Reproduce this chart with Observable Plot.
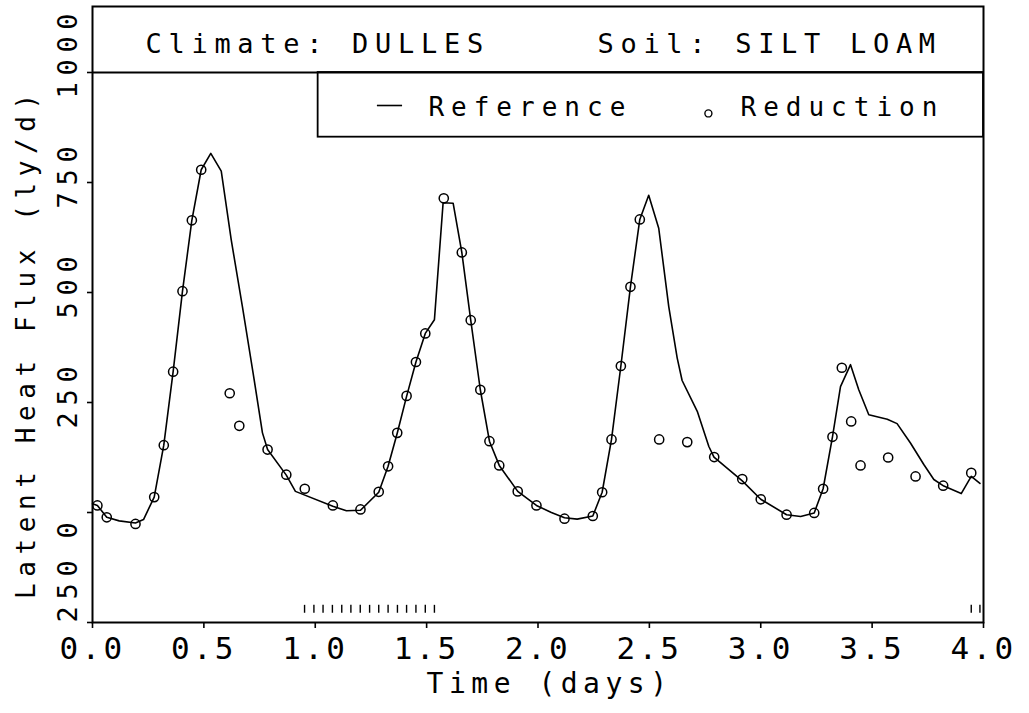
<!DOCTYPE html>
<html>
<head>
<meta charset="utf-8">
<script src="https://cdn.jsdelivr.net/npm/d3@7"></script>
<script src="https://cdn.jsdelivr.net/npm/@observablehq/plot@0.6"></script>
<style>
  html, body { margin: 0; padding: 0; background: #fff; }
  #chart svg { display: block; }
  g[aria-description="title"] text { letter-spacing: 6.7px; }
  g[aria-description="legend-text"] text { letter-spacing: 7px; }
  g[aria-label="y-axis tick label"] text { letter-spacing: 6.7px; }
  g[aria-label="x-axis tick label"] text { letter-spacing: 3.3px; }
  g[aria-description="y-title"] text { letter-spacing: 6.6px; }
  g[aria-description="x-title"] text { letter-spacing: 5.5px; }
</style>
</head>
<body>
<div id="chart"></div>
<script>
// Reference simulation (line): time in days, latent heat flux in ly/d
const refDays = [0.000,0.022,0.064,0.120,0.193,0.229,0.277,0.320,0.362,0.404,0.446,0.488,0.531,0.578,0.623,0.673,0.721,0.763,0.786,0.870,0.911,1.079,1.140,1.203,1.285,1.327,1.368,1.410,1.452,1.494,1.535,1.574,1.619,1.658,1.698,1.741,1.782,1.826,1.909,1.993,2.060,2.119,2.176,2.246,2.288,2.330,2.372,2.415,2.457,2.497,2.542,2.587,2.625,2.647,2.715,2.767,2.790,2.917,3.000,3.116,3.179,3.240,3.280,3.322,3.358,3.403,3.440,3.485,3.568,3.612,3.672,3.732,3.777,3.822,3.900,3.945,3.984];
const refFlux = [20,16,-11,-19,-24,-16,35,153,320,503,664,779,816,776,619,468,317,181,143,85,48,14,4,5,46,105,180,264,342,407,438,704,703,591,437,279,162,107,48,16,0,-12,-15,-8,46,166,333,513,666,721,646,468,351,300,230,150,126,72,30,-5,-9,-1,54,172,286,336,279,222,212,202,158,109,75,60,43,82,66];

// Reduction (circles)
const redDays = [0.022,0.064,0.193,0.277,0.320,0.362,0.404,0.446,0.488,0.616,0.659,0.786,0.870,0.953,1.079,1.203,1.285,1.327,1.368,1.410,1.452,1.494,1.577,1.658,1.698,1.741,1.782,1.826,1.909,1.993,2.119,2.246,2.288,2.330,2.372,2.415,2.457,2.544,2.670,2.791,2.917,3.000,3.116,3.240,3.280,3.322,3.364,3.406,3.448,3.572,3.695,3.819,3.945];
const redFlux = [16,-11,-26,35,153,320,503,664,779,271,197,143,86,54,16,7,47,105,181,265,342,407,714,591,437,279,162,107,48,16,-14,-8,46,166,333,513,666,166,160,126,76,30,-5,-1,54,172,329,207,107,125,82,61,90];

// Small event marks along the bottom
const eventDays = [0.952,0.994,1.035,1.077,1.119,1.160,1.202,1.244,1.285,1.327,1.369,1.410,1.452,1.494,1.535,3.945,3.984];

// Ticks and texts
const xTicks = [0,0.5,1,1.5,2,2.5,3,3.5,4];
const yTicksAll = [1000,750,500,250,0,-250];
const yTicks = [1000,750,500,250,0];
const yTickBottom = [-250];
const titleLeft = "Climate: DULLES";
const titleRight = "Soil: SILT LOAM";
const seriesNames = ["Reference","Reduction"];
const xTitle = "Time (days)";
const yTitle = "Latent Heat Flux (ly/d)";

const refData = refDays.map((d,i) => ({day: d, flux: refFlux[i]}));
const redData = redDays.map((d,i) => ({day: d, flux: redFlux[i]}));

const FONT = "DejaVu Sans Mono";
const xDomain = [0, 4];
const yDomain = [-250, 1150];

const chart = Plot.plot({
  width: 1029,
  height: 713,
  marginLeft: 92,
  marginRight: 46,
  marginTop: 6,
  marginBottom: 91,
  style: {background: "white", color: "black"},
  x: {domain: xDomain, label: null},
  y: {domain: yDomain, label: null},
  marks: [
    Plot.frame({stroke: "black", strokeWidth: 2}),
    Plot.ruleY([1000], {stroke: "black", strokeWidth: 2}),
    Plot.rect([0], {x1: 1.013, x2: 4, y1: 853, y2: 1000, stroke: "black", strokeWidth: 1.8, fill: "none"}),
    // title band
    Plot.text([titleLeft], {x: 0.238, y: 1065, text: d => d, textAnchor: "start", fontFamily: FONT, fontSize: 27, fill: "black", ariaDescription: "title"}),
    Plot.text([titleRight], {x: 2.267, y: 1065, text: d => d, textAnchor: "start", fontFamily: FONT, fontSize: 27, fill: "black", ariaDescription: "title"}),
    // legend
    Plot.ruleY([925], {x1: 1.279, x2: 1.392, stroke: "black", strokeWidth: 1.6}),
    Plot.text([seriesNames[0]], {x: 1.508, y: 921, text: d => d, textAnchor: "start", fontFamily: FONT, fontSize: 26, fill: "black", ariaDescription: "legend-text"}),
    Plot.dot([0], {x: 2.765, y: 907, r: 3.5, stroke: "black", strokeWidth: 1.4, fill: "none"}),
    Plot.text([seriesNames[1]], {x: 2.909, y: 921, text: d => d, textAnchor: "start", fontFamily: FONT, fontSize: 26, fill: "black", ariaDescription: "legend-text"}),
    // data
    Plot.line(refData, {x: "day", y: "flux", stroke: "black", strokeWidth: 1.6}),
    Plot.dot(redData, {x: "day", y: "flux", r: 4.6, stroke: "black", strokeWidth: 1.5, fill: "none"}),
    Plot.ruleX(eventDays, {y1: -229, y2: -211, stroke: "black", strokeWidth: 1.4}),
    // axes
    Plot.axisX(xTicks, {anchor: "bottom", tickSize: 6, tickPadding: 8, strokeWidth: 1.6, tickFormat: d3.format(".1f"), fontFamily: FONT, fontSize: 31, label: null}),
    Plot.axisY(yTicksAll, {anchor: "left", tickSize: 5, strokeWidth: 1.6, text: null, label: null}),
    Plot.axisY(yTicks, {anchor: "left", tickSize: 0, tickPadding: 16, tickRotate: -90, textAnchor: "start", dy: 26, tickFormat: d => String(d), fontFamily: FONT, fontSize: 27, label: null}),
    Plot.axisY(yTickBottom, {anchor: "left", tickSize: 0, tickPadding: 16, tickRotate: -90, textAnchor: "start", dy: 0, tickFormat: d => String(Math.abs(d)), fontFamily: FONT, fontSize: 27, label: null}),
    // axis titles
    Plot.text([xTitle], {x: 2.052, y: -250, dy: 62, text: d => d, textAnchor: "middle", fontFamily: FONT, fontSize: 28, fill: "black", ariaDescription: "x-title"}),
    Plot.text([yTitle], {x: 0, y: 385, dx: -66, rotate: -90, text: d => d, textAnchor: "middle", fontFamily: FONT, fontSize: 26, fill: "black", ariaDescription: "y-title"})
  ]
});
document.getElementById("chart").appendChild(chart);
</script>
</body>
</html>
